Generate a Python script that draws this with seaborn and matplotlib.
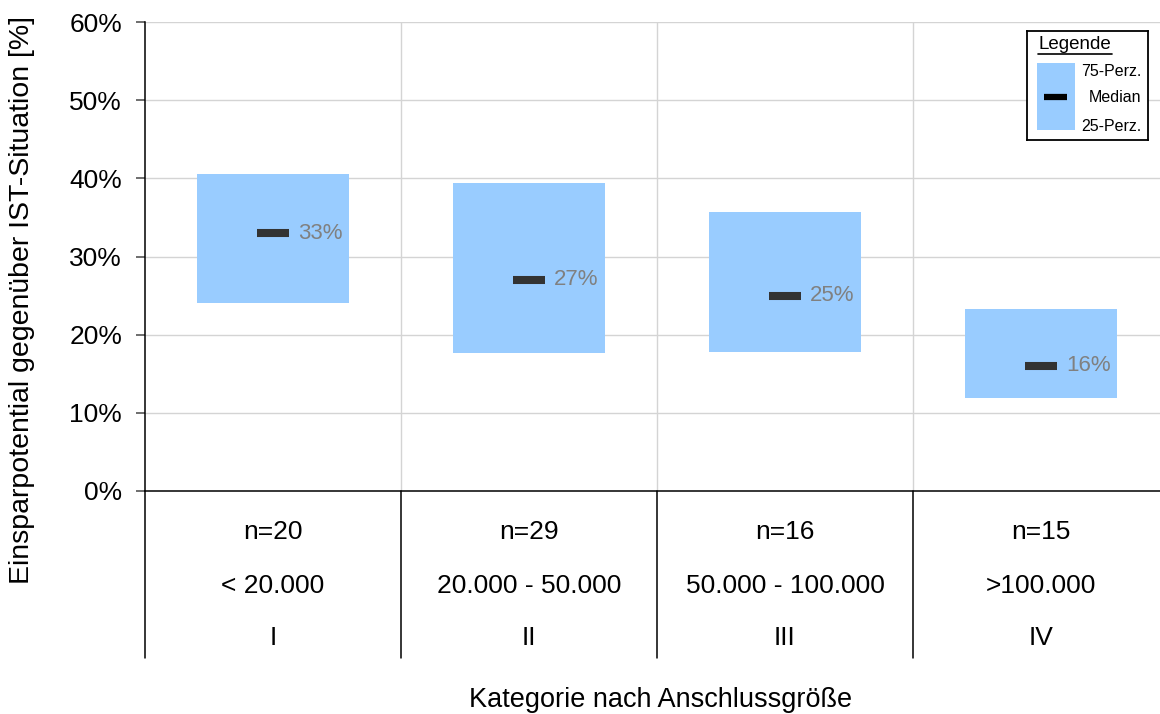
import matplotlib
matplotlib.use("Agg")
import matplotlib.pyplot as plt
import matplotlib.transforms as mtransforms
from matplotlib.patches import Rectangle
import seaborn as sns
import pandas as pd

# Data
categories = ["I", "II", "III", "IV"]
size_ranges = ["< 20.000", "20.000 - 50.000", "50.000 - 100.000", ">100.000"]
sample_sizes = [20, 29, 16, 15]
p75 = [40.5, 39.4, 35.7, 23.3]
p25 = [24.0, 17.6, 17.8, 11.9]
median = [33, 27, 25, 16]

sns.set_theme(style="white")
plt.rcParams["font.family"] = ["Liberation Sans", "DejaVu Sans"]
plt.rcParams["text.color"] = "black"

BOX_COLOR = "#99ccff"
MEDIAN_COLOR = "#333333"
LABEL_GREY = "#808080"
GRID = "#d4d4d4"
FS = 19

df = pd.DataFrame({
    "Kategorie": categories,
    "Spanne": [a - b for a, b in zip(p75, p25)],
})

fig = plt.figure(figsize=(11.6, 7.14), dpi=100)
ax = fig.add_axes([145 / 1160, 1 - 491 / 714, 1024 / 1160, 469 / 714])

sns.barplot(data=df, x="Kategorie", y="Spanne", order=categories,
            color=BOX_COLOR, saturation=1, width=0.59, errorbar=None,
            bottom=p25, linewidth=0, ax=ax, zorder=2)

# Median marks
xs = list(range(len(categories)))
ax.hlines(median, [x - 0.064 for x in xs], [x + 0.064 for x in xs],
          color=MEDIAN_COLOR, linewidth=5.8, capstyle="butt", zorder=3)
for x, m in zip(xs, median):
    ax.text(x + 0.097, m, f"{m}%", color=LABEL_GREY, fontsize=16,
            va="center", ha="left", zorder=4)

ax.set_xlim(-0.5, len(categories) - 0.5)
ax.set_ylim(0, 60)
ax.set_yticks(range(0, 61, 10))
ax.set_yticklabels([f"{v}%" for v in range(0, 61, 10)], fontsize=FS)
ax.set_xticks([])
ax.set_xlabel("")
ax.set_ylabel("")

# Grid
for v in range(10, 61, 10):
    ax.axhline(v, color=GRID, linewidth=1, zorder=0)
for x in [0.5, 1.5, 2.5]:
    ax.axvline(x, color=GRID, linewidth=1, zorder=0)

for s in ["top", "right"]:
    ax.spines[s].set_visible(False)
ax.spines["left"].set_color("black")
ax.spines["left"].set_linewidth(1.1)
ax.spines["bottom"].set_color("black")
ax.spines["bottom"].set_linewidth(1.1)
ax.tick_params(axis="y", which="major", left=True, length=6.5, width=1.2,
               color="#555555", pad=10, labelcolor="black")

# Category table below the axis
trans = mtransforms.blended_transform_factory(ax.transData, ax.transAxes)
for x in [-0.5, 0.5, 1.5, 2.5, 3.5]:
    ax.plot([x, x], [0, -0.356], transform=trans, color="black",
            linewidth=1.1, clip_on=False)
for x, n, r, c in zip(xs, sample_sizes, size_ranges, categories):
    ax.text(x, -0.0874, f"n={n}", transform=trans, ha="center", va="center", fontsize=FS)
    ax.text(x, -0.2026, r, transform=trans, ha="center", va="center", fontsize=FS)
    ax.text(x, -0.3134, c, transform=trans, ha="center", va="center", fontsize=FS)

fig.text(22 / 1160, 1 - 300 / 714, "Einsparpotential gegenüber IST-Situation [%]",
         rotation=90, ha="center", va="center", fontsize=20.5)
fig.text(661 / 1160, 1 - 700 / 714, "Kategorie nach Anschlussgröße",
         ha="center", va="center", fontsize=19.5)

# Legend box
lax = fig.add_axes([1027 / 1160, 1 - 140 / 714, 121 / 1160, 109 / 714])
lax.set_xlim(0, 1)
lax.set_ylim(0, 1)
lax.set_xticks([])
lax.set_yticks([])
lax.set_facecolor("white")
for s in lax.spines.values():
    s.set_visible(True)
    s.set_color("black")
    s.set_linewidth(1.3)
lax.add_patch(Rectangle((0.083, 0.092), 0.314, 0.614, facecolor=BOX_COLOR, edgecolor="none"))
lax.plot([0.14, 0.33], [0.394, 0.394], color="black", linewidth=4.5, solid_capstyle="butt")
lax.text(0.095, 0.872, "Legende", fontsize=13.5, ha="left", va="center")
lax.plot([0.09, 0.70], [0.79, 0.79], color="black", linewidth=1.2)
lax.text(0.446, 0.624, "75-Perz.", fontsize=11.5, ha="left", va="center")
lax.text(0.73, 0.394, "Median", fontsize=11.5, ha="center", va="center")
lax.text(0.446, 0.128, "25-Perz.", fontsize=11.5, ha="left", va="center")

fig.savefig("out.png", dpi=100)
